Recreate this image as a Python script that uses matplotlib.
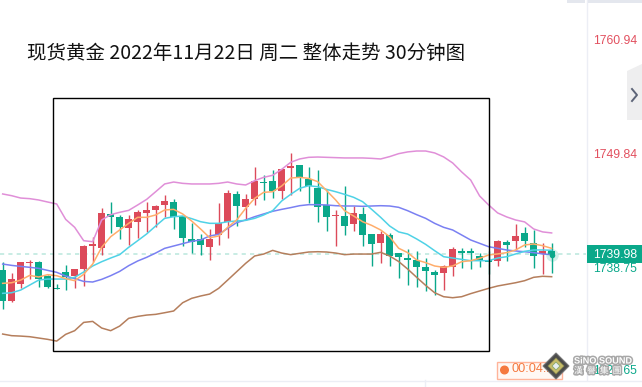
import matplotlib
matplotlib.use("Agg")
import matplotlib.pyplot as plt
import matplotlib.patheffects as pe
from matplotlib.patches import Rectangle, Polygon

plt.rcParams['font.family'] = ['Noto Sans CJK SC', 'DejaVu Sans']

title = "现货黄金 2022年11月22日 周二 整体走势 30分钟图"
price_ticks = ["1760.94", "1749.84", "1738.75", "1727.65"]
last_price = 1739.98
countdown = "00:04:2"

opens = [1738.46,1735.43,1737.09,1739.15,1739.25,1737.88,1736.70,1738.27,1737.88,1738.56,
         1740.82,1740.62,1743.96,1743.66,1742.58,1743.17,1744.05,1744.35,1744.84,1745.13,
         1743.76,1741.50,1741.50,1740.72,1741.90,1743.17,1745.92,1744.64,1745.43,1747.09,
         1747.19,1746.21,1748.46,1748.76,1747.39,1746.50,1744.84,1743.76,1743.76,1742.97,
         1743.96,1742.00,1741.11,1741.90,1740.13,1739.64,1739.45,1738.76,1738.27,1738.17,
         1738.76,1740.33,1740.33,1739.84,1739.45,1739.35,1741.21,1741.31,1742.09,1741.11,
         1740.04,1740.33]
closes = [1735.43,1737.58,1739.25,1739.25,1737.58,1736.80,1736.63,1737.78,1738.56,1740.82,
          1741.01,1744.05,1743.66,1742.68,1743.46,1744.15,1744.35,1744.74,1745.23,1743.66,
          1741.60,1741.21,1740.92,1741.50,1743.07,1746.01,1744.74,1745.43,1747.19,1746.99,
          1746.21,1748.37,1748.66,1747.58,1746.70,1744.64,1743.66,1743.86,1742.78,1744.05,
          1741.90,1741.01,1742.00,1739.84,1739.74,1739.45,1738.76,1738.37,1737.98,1738.86,
          1740.53,1740.13,1740.13,1739.35,1739.25,1741.31,1740.92,1741.80,1741.31,1739.84,
          1740.33,1739.94]
highs = [1739.28,1738.17,1739.25,1739.45,1739.35,1737.97,1737.09,1738.96,1738.56,1740.92,
         1741.70,1744.54,1745.13,1743.86,1743.86,1744.35,1745.13,1744.84,1745.82,1745.43,
         1743.76,1743.07,1742.00,1742.48,1745.03,1746.31,1746.21,1745.92,1748.56,1747.78,
         1748.27,1748.37,1749.94,1748.76,1748.56,1748.27,1746.31,1744.35,1746.70,1744.74,
         1744.64,1742.00,1742.29,1742.09,1740.13,1740.53,1740.33,1739.64,1738.47,1738.96,
         1740.72,1740.62,1740.62,1740.13,1740.33,1741.41,1741.41,1742.98,1742.68,1742.39,
         1741.11,1741.11]
lows = [1734.64,1735.33,1736.70,1737.58,1736.80,1736.70,1736.60,1736.50,1736.70,1736.90,
        1739.25,1739.94,1742.09,1741.50,1740.92,1741.60,1742.19,1742.68,1743.66,1742.48,
        1740.82,1740.13,1739.94,1739.45,1740.92,1741.60,1742.78,1743.37,1744.84,1745.33,
        1745.52,1745.43,1745.82,1746.21,1745.03,1743.17,1742.29,1740.82,1741.90,1742.29,
        1740.82,1738.86,1739.15,1738.86,1737.68,1737.00,1736.80,1736.41,1736.02,1736.51,
        1737.88,1738.66,1738.56,1738.76,1738.07,1738.86,1739.35,1740.43,1740.72,1738.66,
        1738.07,1738.17]
boll_upper = [1745.92,1745.75,1745.52,1745.46,1745.33,1745.13,1744.94,1743.43,1742.65,1741.34,
              1741.24,1743.37,1743.89,1744.12,1744.31,1744.84,1745.39,1746.14,1746.90,1747.09,
              1746.96,1746.90,1746.90,1746.90,1746.96,1747.09,1746.90,1746.80,1747.22,1747.55,
              1747.75,1748.33,1749.02,1749.35,1749.51,1749.54,1749.51,1749.48,1749.45,1749.45,
              1749.45,1749.41,1749.35,1749.58,1749.87,1750.04,1750.13,1750.13,1749.94,1749.55,
              1748.96,1748.08,1747.29,1745.72,1744.84,1744.06,1743.67,1743.37,1743.18,1742.49,
              1742.20,1742.10]
boll_lower = [1732.19,1732.03,1731.99,1731.93,1731.80,1731.67,1731.50,1732.16,1732.52,1733.33,
              1733.43,1732.78,1732.52,1732.97,1733.73,1733.92,1734.05,1734.12,1734.28,1734.45,
              1735.26,1735.69,1735.92,1736.11,1736.67,1737.48,1738.30,1739.12,1739.84,1740.03,
              1740.39,1740.13,1739.97,1740.10,1740.23,1740.26,1740.23,1740.13,1739.97,1740.03,
              1740.03,1740.03,1740.20,1739.84,1739.30,1738.56,1737.75,1736.96,1736.24,1735.85,
              1735.75,1735.85,1736.15,1736.41,1736.67,1736.90,1737.06,1737.22,1737.42,1737.75,
              1737.85,1737.81]
boll_mid = [1739.05,1738.92,1738.82,1738.73,1738.63,1738.43,1738.24,1737.88,1737.62,1737.35,
            1737.29,1737.55,1737.91,1738.33,1738.89,1739.35,1739.71,1740.13,1740.59,1740.82,
            1741.05,1741.28,1741.41,1741.80,1741.96,1742.55,1743.11,1743.37,1743.69,1743.96,
            1744.22,1744.41,1744.58,1744.77,1744.87,1744.87,1744.84,1744.77,1744.74,1744.74,
            1744.71,1744.74,1744.77,1744.74,1744.61,1744.28,1743.89,1743.53,1743.04,1742.65,
            1742.39,1741.90,1741.41,1741.08,1740.75,1740.59,1740.43,1740.33,1740.26,1740.17,
            1740.04,1739.97]
ma_slow = [1736.18,1736.24,1736.50,1736.99,1737.48,1737.58,1737.58,1737.58,1737.75,1738.27,
           1738.86,1739.28,1739.64,1739.97,1740.69,1741.34,1742.00,1742.78,1743.53,1743.69,
           1743.76,1743.50,1743.20,1743.04,1743.04,1743.20,1743.27,1743.33,1743.53,1743.86,
           1744.28,1745.23,1745.88,1746.47,1746.73,1746.63,1746.37,1746.14,1745.88,1745.59,
           1745.16,1744.41,1743.63,1742.78,1742.20,1741.99,1741.51,1740.98,1740.36,1739.77,
           1739.64,1739.51,1739.38,1739.38,1739.38,1739.64,1739.77,1740.04,1740.30,1740.43,
           1740.43,1740.40]
ma_fast = [1737.16,1737.22,1737.48,1737.94,1737.78,1738.01,1737.91,1737.62,1737.42,1738.04,
           1739.05,1740.69,1741.73,1742.39,1743.04,1743.63,1743.63,1743.86,1744.35,1744.41,
           1743.96,1743.27,1742.48,1741.63,1741.80,1742.65,1743.37,1744.51,1745.49,1746.08,
           1746.14,1746.70,1747.48,1747.55,1747.45,1747.13,1746.24,1745.33,1744.28,1743.76,
           1743.20,1742.84,1742.39,1741.73,1740.60,1740.17,1739.45,1739.19,1738.86,1738.73,
           1738.86,1739.28,1739.38,1739.61,1739.94,1740.04,1740.17,1740.43,1740.92,1741.02,
           1740.85,1740.59]

RED, GREEN = "#dc4a5a", "#0aa88a"
W, H = 642, 387
fig = plt.figure(figsize=(W / 100, H / 100), dpi=100, facecolor="white")

ax = fig.add_axes([0, 0, 1, 1])
ax.set_xlim(-0.297, 71.04)
ax.set_ylim(1727.0, 1764.93)
ax.axis("off")

xs = list(range(len(opens)))
colors = [RED if c >= o else GREEN for o, c in zip(opens, closes)]
ax.vlines(xs, lows, highs, colors=colors, linewidth=1.0, zorder=2)
ax.bar(xs, [max(abs(c - o), 0.12) for o, c in zip(opens, closes)],
       bottom=[min(o, c) for o, c in zip(opens, closes)],
       width=0.78, color=colors, linewidth=0, zorder=3)

for series, col in [(boll_upper, "#e08fd8"), (boll_lower, "#b57e5c"), (boll_mid, "#7a80f2"),
                    (ma_slow, "#4fd2e6"), (ma_fast, "#ffad6b")]:
    ax.plot(xs, series, color=col, linewidth=1.1, zorder=4, solid_joinstyle="round")

ax.plot([-0.297, 64.8], [last_price + 0.05] * 2, color="#bfe9df", linewidth=1.2,
        linestyle=(0, (2.5, 2.5)), zorder=1)
ax.plot([xs[-1]], [closes[-1]], "o", color=GREEN, markersize=9, alpha=0.18, zorder=5,
        markeredgewidth=0)
ax.plot([xs[-1]], [closes[-1]], "o", color=GREEN, markersize=4, zorder=5, markeredgewidth=0)

ov = fig.add_axes([0, 0, 1, 1], facecolor="none")
ov.set_xlim(0, W)
ov.set_ylim(H, 0)
ov.axis("off")

ov.add_patch(Rectangle((52.8, 97.8), 436, 253, fill=False, edgecolor="black", linewidth=1.0, zorder=6))
ov.text(27, 53, title, fontsize=14.0, color="#111111", va="center", ha="left", zorder=7)

ov.plot([586.5, 586.5], [0, 380], color="#eceef5", linewidth=1.0, zorder=1)
ov.plot([0, W], [380.5, 380.5], color="#eceef5", linewidth=1.0, zorder=1)
ov.plot([424.5, 424.5], [380, 387], color="#eceef5", linewidth=1.0, zorder=1)
ov.add_patch(Rectangle((567, 0), 18, 3, color="#e4e7ee", linewidth=0))
ov.add_patch(Rectangle((588, 0), 54, 3, color="#e4e7ee", linewidth=0))
ov.add_patch(Polygon([(627, 71), (642, 64), (642, 120), (627, 120)], closed=True,
                     color="#eeeeef", linewidth=0))
ov.plot([632, 637, 632], [89, 95, 101], color="#5d6478", linewidth=1.4, zorder=3)

ypix = [41.5, 154.5, 269.5, 371.5]
for lab, y, c in zip(price_ticks, ypix, ["#e2505f", "#e2505f", GREEN, GREEN]):
    ov.text(593.5, y, lab, fontsize=8.7, color=c, va="center", ha="left", family="Liberation Sans", zorder=3)
ov.add_patch(Rectangle((587, 245), 55, 18, color=GREEN, linewidth=0, zorder=3))
ov.text(593.5, 254.5, f"{last_price:.2f}", fontsize=8.7, color="white", va="center", ha="left",
        family="Liberation Sans", zorder=4)

ov.add_patch(Rectangle((496.5, 361.5), 65, 17, facecolor="#fff8f4", edgecolor="#ffb49a", linewidth=1.0, zorder=3))
ov.add_patch(plt.Circle((504.5, 370), 3.8, color="#f5793f", zorder=4))
ov.text(511.5, 369.5, countdown, fontsize=9.2, color="#f5793f", va="center", ha="left",
        family="Liberation Sans", zorder=4)

ov.add_patch(Polygon([(556, 353), (569, 366), (556, 379), (543, 366)], closed=True,
                     facecolor="#4b4b4b", edgecolor="#777777", linewidth=0.8, zorder=8))
ov.add_patch(Polygon([(556, 358), (564, 366), (556, 374), (548, 366)], closed=True,
                     facecolor="#c9bd6a", edgecolor="#8a8a50", linewidth=0.6, zorder=9))
ov.add_patch(Polygon([(556, 362), (560, 366), (556, 370), (552, 366)], closed=True,
                     facecolor="#e7eef0", edgecolor="#88a86a", linewidth=0.6, zorder=10))
halo = [pe.withStroke(linewidth=2.2, foreground="#a8a8a8")]
ov.text(574, 361, "SiNO SOUND", fontsize=6.6, fontweight="bold", color="white", va="center", ha="left",
        family="Liberation Sans", path_effects=halo, zorder=9)
ov.text(574, 371, "漢  譽  集  團", fontsize=6.4, color="white", va="center", ha="left",
        path_effects=halo, zorder=9)

fig.savefig("out.png", dpi=100, facecolor="white")
